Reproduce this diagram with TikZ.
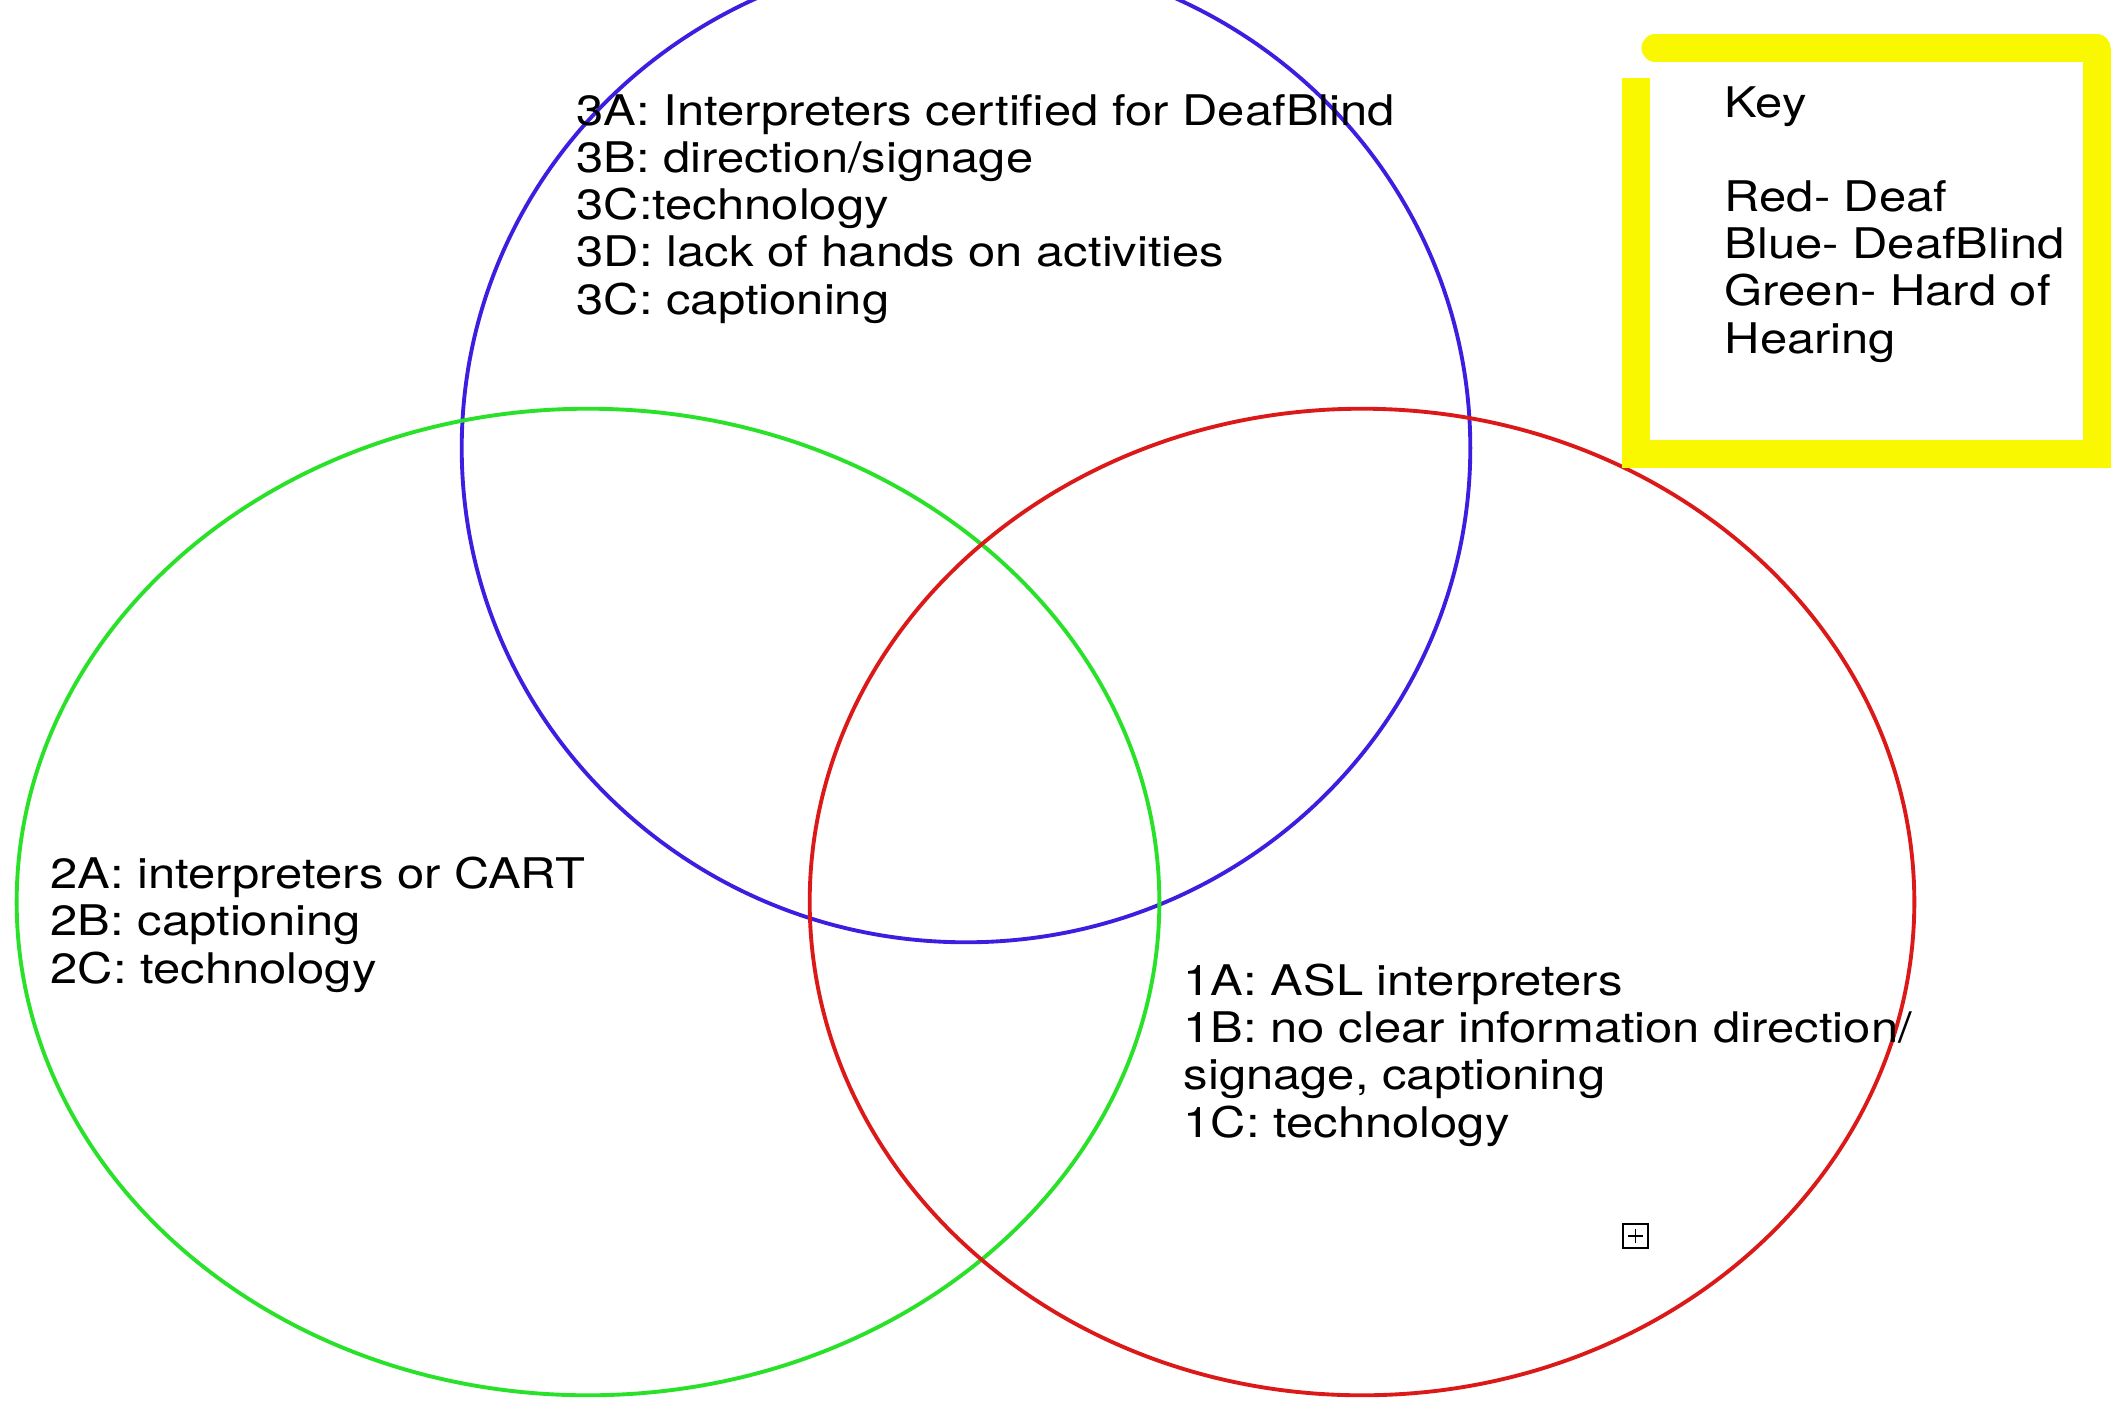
\documentclass[tikz,border=0pt]{standalone}
\usepackage{fontspec}
\setmainfont[FakeStretch=1.16]{TeX Gyre Heros}
\definecolor{ringblue}{RGB}{60,30,225}
\definecolor{ringgreen}{RGB}{40,225,40}
\definecolor{ringred}{RGB}{220,25,25}
\definecolor{keyyellow}{RGB}{250,248,0}

\begin{document}
\begin{tikzpicture}[x=0.01cm, y=-0.01cm,
            ring/.style={line width=1.1pt},
            items/.style={anchor=base west, inner sep=0pt, align=left,
                font=\fontsize{12}{13.4}\selectfont},
        ]
            \useasboundingbox (0,0) rectangle (2125,1400);
            % three sets
            \draw[ring, ringblue] (966,448) ellipse [x radius=5.04cm, y radius=4.94cm];
            \draw[ring, ringgreen] (588,902) ellipse [x radius=5.71cm, y radius=4.93cm];
            \draw[ring, ringred] (1362,902) ellipse [x radius=5.52cm, y radius=4.93cm];
            % key
            \draw[keyyellow, line width=7.7pt, line cap=round] (1655,48) -- (2097,48);
            \draw[keyyellow, line width=7.7pt] (2097,48) -- (2097,454)
                -- (1636,454) -- (1636,78);
            \node[items] (key) at (1724,353) {Key\\[13.4pt]Red- Deaf\\Blue- DeafBlind\\Green- Hard of\\Hearing};
            % barriers
            \node[items] (blueitems) at (576,314) {3A: Interpreters certified for DeafBlind\\3B: direction/signage\\3C:technology\\3D: lack of hands on activities\\3C: captioning};
            \node[items] (greenitems) at (50,983) {2A: interpreters or CART\\2B: captioning\\2C: technology};
            \node[items] (reditems) at (1183,1137) {1A: ASL interpreters\\1B: no clear information direction/\\signage, captioning\\1C: technology};
            % small marker
            \draw[line width=0.5pt] (1623,1224) rectangle (1648,1248);
            \draw[line width=0.5pt] (1635.5,1229) -- (1635.5,1243) (1628,1236) -- (1643,1236);
        \end{tikzpicture}
\end{document}
